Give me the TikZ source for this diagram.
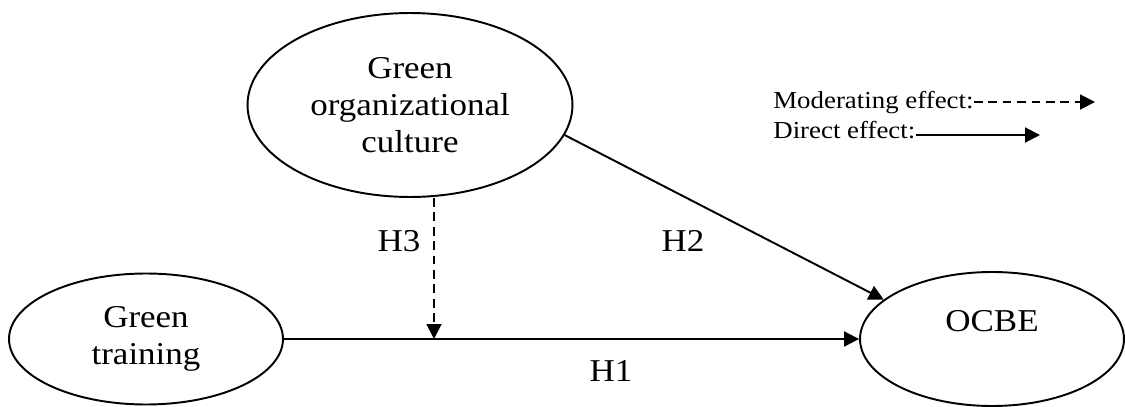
\documentclass[tikz,border=0pt]{standalone}
\usepackage{fontspec}
\setmainfont{Liberation Serif}[FakeStretch=1.1]
\usetikzlibrary{arrows.meta,shapes.geometric}

\begin{document}
\begin{tikzpicture}[x=0.02cm, y=0.02cm,
  varstyle/.style={ellipse, draw=black, line width=1.1pt, inner sep=0pt, align=center, font=\fontsize{18.1}{21}\selectfont},
  hypstyle/.style={font=\fontsize{18.1}{21}\selectfont},
  legstyle/.style={anchor=base west, inner sep=0pt, font=\fontsize{13.9}{16}\selectfont},
  direct/.style={line width=1.1pt, -{Triangle[length=8.5pt,width=8.5pt]}},
  moderating/.style={direct, dash pattern=on 5pt off 3.2pt}]

  \useasboundingbox (0,0) rectangle (1125,406);

  % variables
  \node[varstyle, minimum width=6.5cm, minimum height=3.68cm] (goc) at (410,301) {Green\\organizational\\culture};
  \node[varstyle, minimum width=5.48cm, minimum height=2.62cm] (gt) at (146,67) {Green\\training};
  \node[varstyle, minimum width=5.28cm, minimum height=2.68cm, text depth=21pt] (ocbe) at (992,67) {OCBE};

  % hypotheses
  \node[hypstyle] (h3) at (399,165) {H3};
  \node[hypstyle] (h2) at (683,165) {H2};
  \node[hypstyle] (h1) at (611,35) {H1};

  \coordinate (mod) at (434,67);
  \draw[direct] (gt.east) -- (ocbe.west);
  \draw[direct] (goc.-11) -- (ocbe.160);
  \draw[moderating] (goc.south -| mod) -- (mod);

  % legend
  \node[legstyle] (modtxt) at (773,297) {Moderating effect:};
  \node[legstyle] (dirtxt) at (773,267) {Direct effect:};
  \coordinate (modend) at (1095,304);
  \coordinate (dirend) at (1040,271);
  \draw[moderating] (modtxt.base east |- modend) -- (modend);
  \draw[direct] (dirtxt.base east |- dirend) -- (dirend);

\end{tikzpicture}
\end{document}
